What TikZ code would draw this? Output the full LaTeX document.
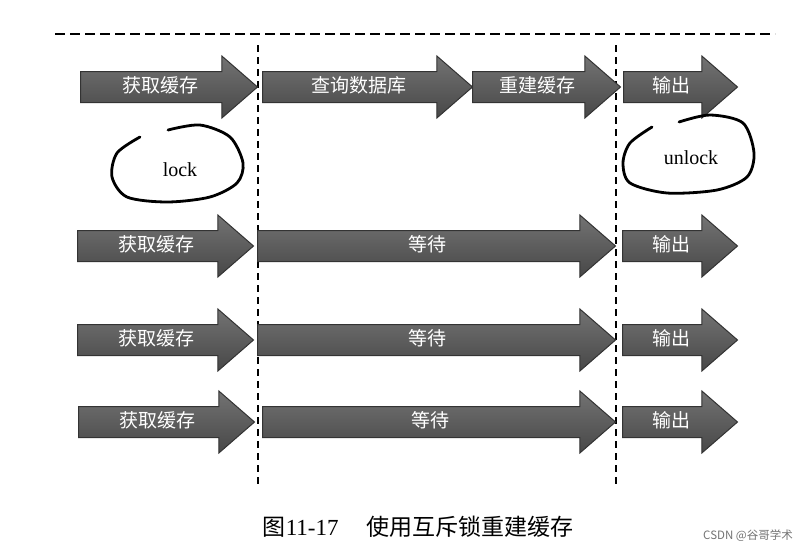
\documentclass[tikz,border=0pt]{standalone}
\usepackage{fontspec}
\setmainfont{Liberation Serif}
\newfontfamily\cjk{Noto Sans CJK SC}
\usetikzlibrary{shapes.arrows}

\tikzset{
  blk/.style={single arrow, draw=black!80, line width=1pt,
    top color=black!55, bottom color=black!72,
    text=white, font=\cjk\fontsize{19}{19}\selectfont,
    single arrow head extend=15.5pt, single arrow tip angle=82,
    single arrow head indent=0pt,
    text height=13pt, text depth=2pt, inner ysep=7.5pt, inner xsep=0pt,
    anchor=tail},
  sep/.style={line width=1.6pt, dash pattern=on 7pt off 5pt},
  loopline/.style={line width=2.8pt, line cap=round}
}

\begin{document}
\begin{tikzpicture}[x=1pt,y=-1pt]
\useasboundingbox (0,0) rectangle (805,555);

% time borders
\draw[sep, dash pattern=on 10pt off 5pt] (55,34) -- (775,34);
\coordinate (s1a) at (258,45);
\coordinate (s1b) at (258,484);
\coordinate (s2a) at (616,45);
\coordinate (s2b) at (616,484);
\draw[sep] (s1a) -- (s1b);
\draw[sep] (s2a) -- (s2b);

% first request
\node[blk, minimum height=177pt] at (80,87) (get1) {获取缓存};
\node[blk, minimum height=210pt] at (262,87) (query) {查询数据库};
\node[blk, minimum height=148pt] at (472,87) (rebuild) {重建缓存};
\node[blk, minimum height=114pt] at (623,87) (out1) {输出};

% waiting requests
\node[blk, minimum height=176pt] at (77,246) (get2) {获取缓存};
\node[blk, minimum height=358pt] at (257,246) (wait2) {等待};
\node[blk, minimum height=115pt] at (622,246) (out2) {输出};

\node[blk, minimum height=176pt] at (77,340) (get3) {获取缓存};
\node[blk, minimum height=358pt] at (257,340) (wait3) {等待};
\node[blk, minimum height=115pt] at (622,340) (out3) {输出};

\node[blk, minimum height=176pt] at (78,422) (get4) {获取缓存};
\node[blk, minimum height=353pt] at (262,422) (wait4) {等待};
\node[blk, minimum height=115pt] at (622,422) (out4) {输出};

% lock / unlock
\draw[loopline] plot[smooth] coordinates {(168,130) (200,125) (230,137) (243,163)
  (237,183) (210,197) (167,202) (127,197) (112,177) (117,153) (140,137)};
\node[font=\fontsize{20}{20}\selectfont] at (180,170) (lock) {lock};

\draw[loopline] plot[smooth] coordinates {(679,122) (710,115) (743,123) (754,153)
  (747,177) (717,190) (667,193) (630,183) (623,163) (630,143) (652,127)};
\node[font=\fontsize{20}{20}\selectfont] at (691,158) (unlock) {unlock};

% caption
\node[font=\fontsize{23}{23}\selectfont] at (418,527) (cap)
  {{\cjk 图}11-17\hspace{1.2em}{\cjk 使用互斥锁重建缓存}};
\node[font=\cjk\fontsize{11.5}{11.5}\selectfont, text=black!55] at (748,536) (mark)
  {CSDN @谷哥学术};
\end{tikzpicture}
\end{document}
